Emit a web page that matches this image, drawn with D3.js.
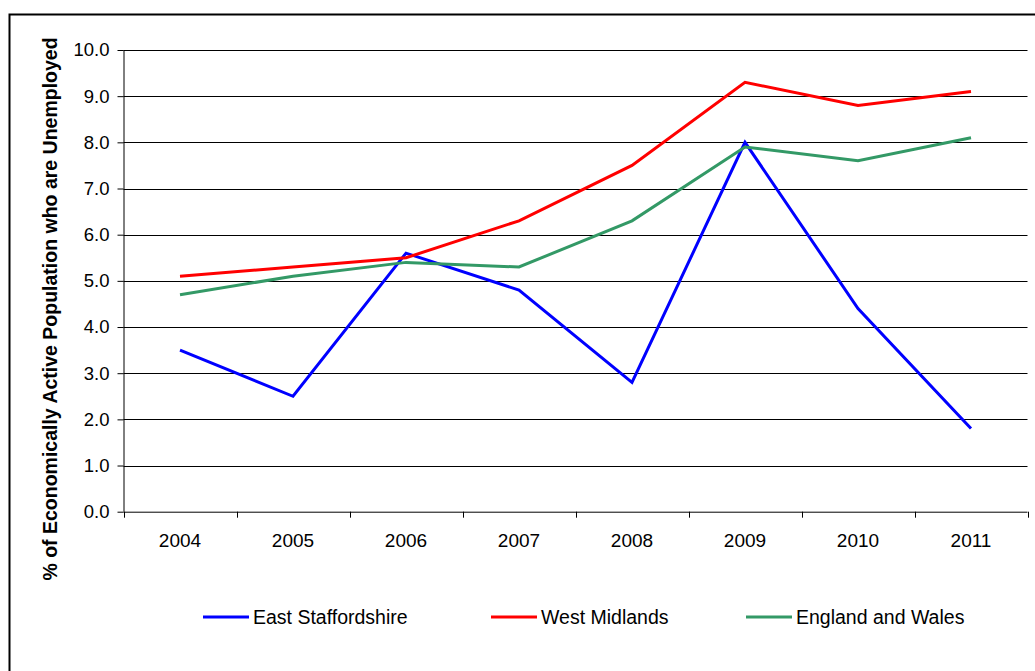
<!DOCTYPE html>
<html>
<head>
<meta charset="utf-8">
<script src="https://cdn.jsdelivr.net/npm/d3@7"></script>
<style>
  html, body { margin: 0; padding: 0; background: #fff; }
  svg { display: block; font-family: Arial, "Liberation Sans", sans-serif; }
</style>
</head>
<body>
<svg id="chart" width="1035" height="671"></svg>
<script>
// Unemployment rate (% of economically active population), 2004-2011
const years = ["2004", "2005", "2006", "2007", "2008", "2009", "2010", "2011"];
const eastStaffordshire = [3.5, 2.5, 5.6, 4.8, 2.8, 8.0, 4.4, 1.8];
const westMidlands      = [5.1, 5.3, 5.5, 6.3, 7.5, 9.3, 8.8, 9.1];
const englandAndWales   = [4.7, 5.1, 5.4, 5.3, 6.3, 7.9, 7.6, 8.1];
const seriesNames = ["East Staffordshire", "West Midlands", "England and Wales"];
const yTicks = [0, 1, 2, 3, 4, 5, 6, 7, 8, 9, 10];
const yTitle = "% of Economically Active Population who are Unemployed";

const series = [
  { name: seriesNames[0], values: eastStaffordshire, color: "#0000ff" },
  { name: seriesNames[1], values: westMidlands,      color: "#ff0000" },
  { name: seriesNames[2], values: englandAndWales,   color: "#339966" }
];

const FONT = "Arial, 'Liberation Sans', sans-serif";
const svg = d3.select("#chart");

// outer chart frame
svg.append("rect")
  .attr("x", 9.5).attr("y", 14.5)
  .attr("width", 1040).attr("height", 700)
  .attr("fill", "#fff")
  .attr("stroke", "#000")
  .attr("stroke-width", 2);

const plot = { left: 123.5, right: 1027.5, top: 50, bottom: 511.7 };

const x = d3.scaleBand().domain(years).range([plot.left, plot.right]).padding(0);
const y = d3.scaleLinear().domain([0, 10]).range([plot.bottom, plot.top]);

// horizontal gridlines
svg.append("g")
  .selectAll("line")
  .data(yTicks.filter(d => d > 0))
  .join("line")
  .attr("x1", plot.left).attr("x2", plot.right)
  .attr("y1", d => Math.round(y(d)) + 0.5).attr("y2", d => Math.round(y(d)) + 0.5)
  .attr("stroke", "#000")
  .attr("stroke-width", 1);

// y axis
const yAxis = svg.append("g")
  .attr("transform", `translate(${plot.left},0)`)
  .call(d3.axisLeft(y).tickValues(yTicks).tickFormat(d3.format(".1f")).tickSize(6).tickPadding(8));
yAxis.select(".domain").attr("stroke", "#000").attr("d", `M0.5,${plot.top}V${plot.bottom}`);
yAxis.selectAll(".tick line").attr("stroke", "#000");
yAxis.selectAll(".tick text")
  .attr("font-size", 18.5).attr("fill", "#000")
  .attr("font-family", FONT);

// x axis with tick marks between categories
const xAxis = svg.append("g")
  .attr("transform", `translate(0,${plot.bottom})`)
  .call(d3.axisBottom(x).tickSize(0).tickPadding(22));
xAxis.select(".domain").attr("stroke", "#000").attr("d", `M${plot.left},0.5H${plot.right}`);
xAxis.selectAll(".tick text")
  .attr("font-size", 19).attr("fill", "#000")
  .attr("font-family", FONT);
xAxis.append("g")
  .selectAll("line")
  .data(years.map(d => x(d)).concat([plot.right]))
  .join("line")
  .attr("x1", d => Math.round(d) + 0.5).attr("x2", d => Math.round(d) + 0.5)
  .attr("y1", 0).attr("y2", 6)
  .attr("stroke", "#000");

// y axis title
svg.append("text")
  .attr("transform", "translate(57,309) rotate(-90)")
  .attr("text-anchor", "middle")
  .attr("font-size", 19.5)
  .attr("font-weight", "bold")
  .attr("font-family", FONT)
  .attr("fill", "#000")
  .text(yTitle);

// series lines
const line = d3.line()
  .x((d, i) => x(years[i]) + x.bandwidth() / 2)
  .y(d => y(d));

svg.append("g")
  .selectAll("path")
  .data(series)
  .join("path")
  .attr("d", d => line(d.values))
  .attr("fill", "none")
  .attr("stroke", d => d.color)
  .attr("stroke-width", 3)
  .attr("stroke-linejoin", "miter");

// legend
const legendX = [203, 491, 746];
const legend = svg.append("g")
  .selectAll("g")
  .data(series)
  .join("g")
  .attr("transform", (d, i) => `translate(${legendX[i]},617)`);
legend.append("line")
  .attr("x1", 0).attr("x2", 46)
  .attr("stroke", d => d.color)
  .attr("stroke-width", 3);
legend.append("text")
  .attr("x", 50).attr("y", 7)
  .attr("font-size", 19.5)
  .attr("font-family", FONT)
  .attr("fill", "#000")
  .text(d => d.name);
</script>
</body>
</html>
